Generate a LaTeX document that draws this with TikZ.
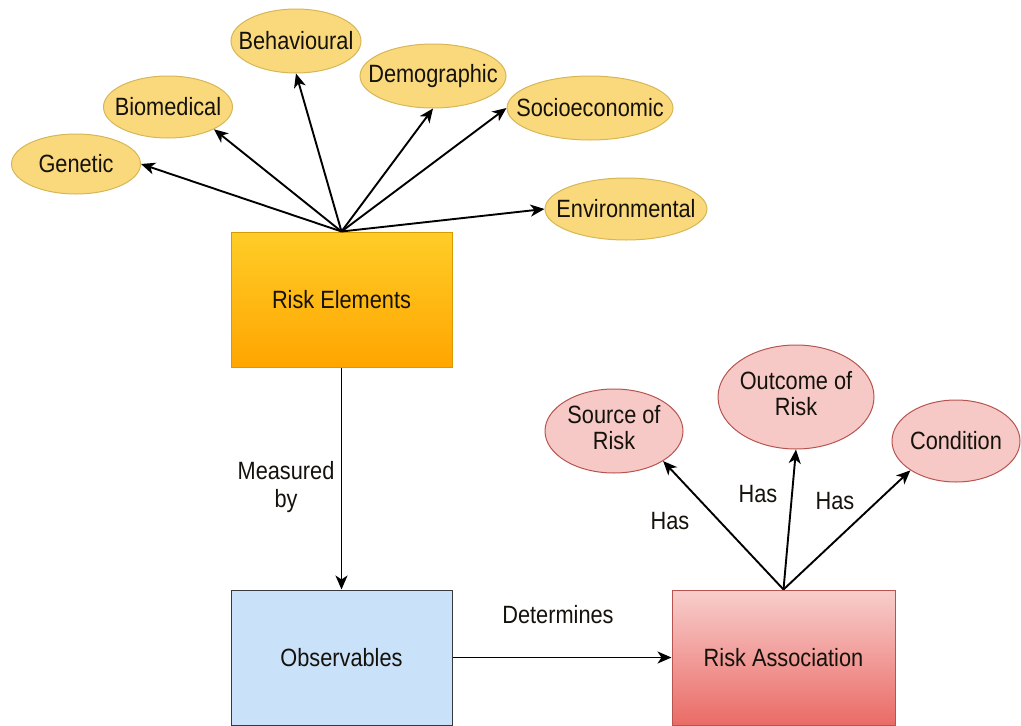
\documentclass[tikz,border=0pt]{standalone}
\usepackage{fontspec}
\setmainfont[FakeStretch=0.87]{Liberation Sans}
\usetikzlibrary{arrows.meta,shapes.geometric}

\definecolor{txt}{HTML}{15120C}
\definecolor{reTop}{HTML}{FFCD28}
\definecolor{reBot}{HTML}{FFA500}
\definecolor{reLine}{HTML}{D79B00}
\definecolor{obFill}{HTML}{C9E1F9}
\definecolor{obLine}{HTML}{36393D}
\definecolor{raTop}{HTML}{F8CECC}
\definecolor{raBot}{HTML}{EA6B66}
\definecolor{raLine}{HTML}{B85450}
\definecolor{yelFill}{HTML}{FAD97C}
\definecolor{yelLine}{HTML}{D6B656}
\definecolor{pinkFill}{HTML}{F6C9C6}

% zero-width text so the ellipse keeps its given size
\newcommand{\zw}[1]{\makebox[0pt]{#1}}
\newcommand{\zwtwo}[2]{\makebox[0pt]{\begin{tabular}{@{}c@{}}#1\\[-2pt]#2\end{tabular}}}

\begin{document}
\begin{tikzpicture}[x=1pt,y=-1pt,
  every node/.style={font=\fontsize{25}{28}\selectfont, text=txt},
  box/.style={rectangle, minimum width=221, minimum height=135, inner sep=0pt, line width=1pt},
  yell/.style={ellipse, fill=yelFill, draw=yelLine, line width=1pt, inner sep=0pt},
  pink/.style={ellipse, fill=pinkFill, draw=raLine, line width=1pt, inner sep=0pt},
  lbl/.style={inner sep=0pt, align=center},
  conn/.style={line width=1.9pt, -{Stealth[length=14pt,width=12pt,inset=4pt]}}
]
\useasboundingbox (0,0) rectangle (1021,726);

% main boxes
\node[box, top color=reTop, bottom color=reBot, draw=reLine] (re) at (341.5,299.5) {Risk Elements};
\node[box, fill=obFill, draw=obLine] (ob) at (341.5,657.5) {Observables};
\node[box, minimum width=223, top color=raTop, bottom color=raBot, draw=raLine] (ra) at (783.5,657.5) {Risk Association};

% risk element categories
\node[yell, minimum width=129, minimum height=60] (gen) at (76,164) {\zw{Genetic}};
\node[yell, minimum width=129, minimum height=62] (bio) at (168,107) {\zw{Biomedical}};
\node[yell, minimum width=130, minimum height=64] (beh) at (296,41) {\zw{Behavioural}};
\node[yell, minimum width=146, minimum height=64] (dem) at (433,76) {\zw{Demographic}};
\node[yell, minimum width=166, minimum height=64] (soc) at (590,108) {\zw{Socioeconomic}};
\node[yell, minimum width=162, minimum height=62] (env) at (626,209) {\zw{Environmental}};

% association attributes
\node[pink, minimum width=138, minimum height=84] (src) at (614,431) {\zwtwo{Source of}{Risk}};
\node[pink, minimum width=156, minimum height=104] (out) at (796,397) {\zwtwo{Outcome of}{Risk}};
\node[pink, minimum width=128, minimum height=82] (cnd) at (956,441) {\zw{Condition}};

% connectors from Risk Elements
\draw[conn] (re.north) -- (gen.east);
\draw[conn] (re.north) -- (bio.south east);
\draw[conn] (re.north) -- (beh.south);
\draw[conn] (re.north) -- (dem.south);
\draw[conn] (re.north) -- (soc.west);
\draw[conn] (re.north) -- (env.west);

% main flow
\draw[conn] (re.south) -- (ob.north);
\draw[conn] (ob.east) -- (ra.west);

% connectors from Risk Association
\draw[conn] (ra.north) -- (src.south east);
\draw[conn] (ra.north) -- (out.south);
\draw[conn] (ra.north) -- (cnd.south west);

% edge labels
\node[lbl] (lmeas) at (286,487) {Measured\\by};
\node[lbl] (ldet) at (558,615) {Determines};
\node[lbl] (lhas1) at (670,521) {Has};
\node[lbl] (lhas2) at (758,494) {Has};
\node[lbl] (lhas3) at (835,501) {Has};
\end{tikzpicture}
\end{document}
